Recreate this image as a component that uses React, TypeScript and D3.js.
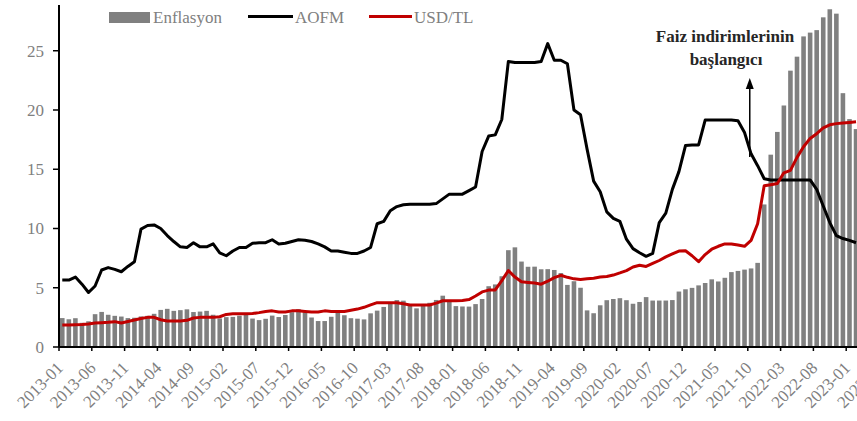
import React from "react";
import * as d3 from "d3";

// monthly categories 2013-01 .. 2023-06 (axis runs past the visible area)
const months: string[] = d3
  .timeMonth.range(new Date(2013, 0, 1), new Date(2023, 6, 1))
  .map(d3.timeFormat("%Y-%m"));

const tickLabels = months.filter((_, i) => i % 5 === 0);
const yTicks = [0, 5, 10, 15, 20, 25];

// Enflasyon (bars)
const enflasyon = [
  2.44, 2.34, 2.43, 2.04, 2.17, 2.77, 2.96, 2.72, 2.63, 2.57, 2.44, 2.47,
  2.58, 2.63, 2.8, 3.13, 3.22, 3.05, 3.11, 3.18, 2.95, 2.99, 3.05, 2.72,
  2.41, 2.52, 2.54, 2.64, 2.7, 2.4, 2.27, 2.38, 2.65, 2.53, 2.7, 2.94,
  3.19, 2.93, 2.49, 2.19, 2.19, 2.55, 2.93, 2.68, 2.43, 2.39, 2.33, 2.84,
  3.07, 3.38, 3.76, 3.96, 3.91, 3.63, 3.26, 3.56, 3.73, 3.97, 4.33, 3.97,
  3.45, 3.42, 3.41, 3.62, 4.05, 5.13, 5.28, 5.97, 8.17, 8.41, 7.21, 6.77,
  6.78, 6.56, 6.57, 6.5, 6.24, 5.24, 5.55, 5.0, 3.09, 2.85, 3.52, 3.95,
  4.05, 4.12, 3.95, 3.65, 3.8, 4.21, 3.92, 3.92, 3.92, 3.96, 4.68, 4.87,
  4.99, 5.2, 5.4, 5.71, 5.53, 5.84, 6.32, 6.42, 6.53, 6.63, 7.1, 12.03,
  16.23, 18.15, 20.38, 23.32, 24.5, 26.21, 26.53, 26.74, 27.82, 28.5, 28.13, 21.42,
  19.23, 18.39,
];

// AOFM (black line)
const aofm = [
  5.65, 5.65, 5.9, 5.3, 4.6, 5.15, 6.5, 6.7, 6.55, 6.35, 6.8, 7.2,
  9.95, 10.25, 10.3, 10.0, 9.4, 8.9, 8.45, 8.4, 8.8, 8.45, 8.45, 8.7,
  7.95, 7.7, 8.1, 8.4, 8.4, 8.75, 8.8, 8.8, 9.05, 8.7, 8.75, 8.9,
  9.05, 9.0, 8.9, 8.7, 8.45, 8.1, 8.1, 8.0, 7.9, 7.9, 8.1, 8.4,
  10.4, 10.6, 11.5, 11.85, 12.0, 12.05, 12.05, 12.05, 12.05, 12.1, 12.5, 12.9,
  12.9, 12.9, 13.2, 13.5, 16.5, 17.8, 17.9, 19.2, 24.1, 24.0, 24.0, 24.0,
  24.0, 24.1, 25.6, 24.2, 24.2, 23.9, 20.0, 19.6, 16.7, 14.0, 13.1, 11.4,
  10.85, 10.6, 9.1, 8.3, 7.95, 7.65, 7.9, 10.5, 11.3, 13.3, 14.8, 17.0,
  17.05, 17.05, 19.15, 19.15, 19.15, 19.15, 19.15, 19.1, 18.1, 16.3, 15.3, 14.2,
  14.1, 14.1, 14.1, 14.1, 14.1, 14.1, 14.1, 13.3, 11.9, 10.5, 9.4, 9.15,
  9.0, 8.8,
];

// USD/TL (red line)
const usdtl = [
  1.86, 1.86, 1.88, 1.9, 1.94, 2.02, 2.05, 2.08, 2.14, 2.02, 2.15, 2.28,
  2.4, 2.5, 2.5, 2.3, 2.2, 2.2, 2.2, 2.25, 2.45, 2.5, 2.5, 2.5,
  2.55, 2.75, 2.8, 2.8, 2.8, 2.82, 2.9, 3.0, 3.05, 2.95, 2.95, 3.05,
  3.05, 3.0, 2.95, 2.95, 3.05, 3.0, 3.0, 3.0, 3.1, 3.2, 3.35, 3.55,
  3.74, 3.74, 3.74, 3.74, 3.65, 3.55, 3.54, 3.54, 3.54, 3.7, 3.9, 3.9,
  3.9, 3.92, 4.0, 4.3, 4.65, 4.8, 4.82, 5.6, 6.45, 5.9, 5.5, 5.45,
  5.4, 5.3, 5.55, 5.85, 6.05, 5.88, 5.75, 5.7, 5.75, 5.8, 5.9, 5.95,
  6.07, 6.25, 6.45, 6.75, 6.9, 6.8, 7.05, 7.3, 7.6, 7.85, 8.1, 8.12,
  7.7, 7.2, 7.8, 8.25, 8.5, 8.7, 8.7, 8.6, 8.5, 9.0, 10.4, 13.6,
  13.7, 13.8, 14.7, 14.9, 16.0, 16.9, 17.6, 18.0, 18.5, 18.75, 18.85, 18.9,
  18.95, 19.0,
];

const W = 857;
const H = 421;
const left = 59;
const step = 6.56;
const font = "'Liberation Serif', 'Times New Roman', serif";
const labelGray = "#808080";

export default function App() {
  const x = d3
    .scaleLinear()
    .domain([0, months.length])
    .range([left, left + step * months.length]);
  const y = d3.scaleLinear().domain([0, 28.86]).range([347, 5]);
  const cx = (i: number) => x(i + 0.5);

  const line = d3
    .line<number>()
    .x((_, i) => cx(i))
    .y((d) => y(d));

  return (
    <svg
      width={W}
      height={H}
      style={{ position: "absolute", left: 0, top: 0, background: "#fff" }}
      fontFamily={font}
    >
      {/* bars */}
      <g fill="#808080">
        {enflasyon.map((v, i) => (
          <rect
            key={i}
            x={x(i + 0.15)}
            width={x(i + 0.85) - x(i + 0.15)}
            y={y(v)}
            height={y(0) - y(v)}
          />
        ))}
      </g>

      <path d={line(aofm) || ""} fill="none" stroke="#000" strokeWidth={3} strokeLinejoin="round" />
      <path d={line(usdtl) || ""} fill="none" stroke="#c00000" strokeWidth={3} strokeLinejoin="round" />

      {/* y axis */}
      <line x1={left} x2={left} y1={y.range()[1]} y2={y(0)} stroke="#000" strokeWidth={2} />
      {yTicks.map((t) => (
        <g key={t}>
          <line x1={left - 6} x2={left} y1={y(t)} y2={y(t)} stroke="#000" strokeWidth={1.5} />
          <text x={44} y={y(t)} dy="0.35em" textAnchor="end" fontSize={17} fill={labelGray}>
            {t}
          </text>
        </g>
      ))}

      {/* x axis */}
      <line x1={left} x2={W} y1={y(0)} y2={y(0)} stroke="#000" strokeWidth={2} />
      {tickLabels.map((lab) => {
        const i = months.indexOf(lab);
        const xt = x(i);
        return (
          <g key={lab}>
            <line x1={xt} x2={xt} y1={y(0)} y2={y(0) + 4} stroke="#000" strokeWidth={1.5} />
            <text
              transform={`translate(${xt + 5},${y(0) + 22}) rotate(-45)`}
              textAnchor="end"
              fontSize={17}
              fill={labelGray}
            >
              {lab}
            </text>
          </g>
        );
      })}

      {/* legend */}
      <rect x={109} y={12} width={41} height={11} fill="#808080" />
      <text x={153} y={23} fontSize={17} fill={labelGray}>Enflasyon</text>
      <line x1={248} x2={293} y1={16.5} y2={16.5} stroke="#000" strokeWidth={3} />
      <text x={295} y={23} fontSize={17} fill={labelGray}>AOFM</text>
      <line x1={369} x2={412} y1={16.5} y2={16.5} stroke="#c00000" strokeWidth={3} />
      <text x={414} y={23} fontSize={17} fill={labelGray}>USD/TL</text>

      {/* annotation */}
      <text x={725} y={42} textAnchor="middle" fontSize={17} fontWeight="bold" fill="#262626">
        Faiz indirimlerinin
      </text>
      <text x={726} y={65} textAnchor="middle" fontSize={17} fontWeight="bold" fill="#262626">
        başlangıcı
      </text>
      <line x1={x(105.3)} x2={x(105.3)} y1={157} y2={86} stroke="#000" strokeWidth={1.5} />
      <path
        d={`M${x(105.3)},78 L${x(105.3) - 4},89 L${x(105.3) + 4},89 Z`}
        fill="#000"
      />
    </svg>
  );
}
